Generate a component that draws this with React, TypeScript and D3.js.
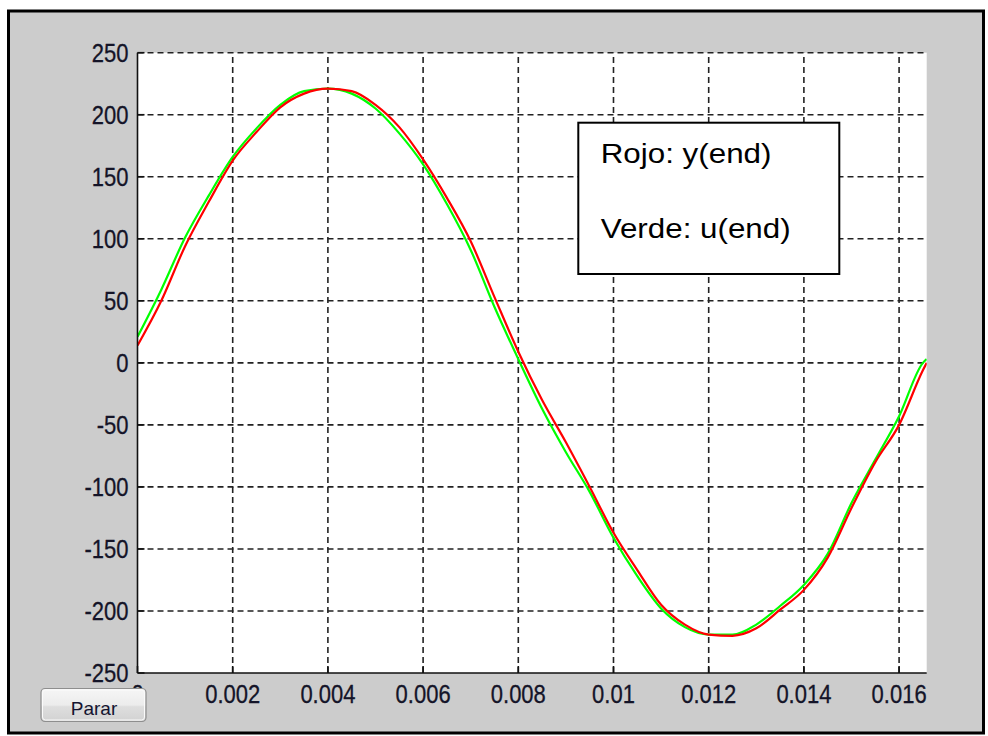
import { useEffect, useRef } from 'react';
import * as d3 from 'd3';

// sample times (s) and the two traces
const times = [
  0, 0.0005, 0.001, 0.0015, 0.002, 0.0025, 0.003, 0.0035, 0.004, 0.0045,
  0.005, 0.0055, 0.006, 0.0065, 0.007, 0.0075, 0.008, 0.0085, 0.009, 0.0095,
  0.01, 0.0105, 0.011, 0.0115, 0.012, 0.0125, 0.013, 0.0135, 0.014, 0.0145,
  0.015, 0.0155, 0.016, 0.0165, 0.01658,
];
const uEnd = [
  21, 59, 101, 135, 166, 189, 208, 219, 221, 217,
  205, 185, 160, 128, 91, 45, 3, -37, -72, -104,
  -141, -172, -198, -213, -219, -219, -211, -196, -179, -154,
  -113, -78, -43, 0, 3,
];
const yEnd = [
  14, 50, 94, 130, 163, 186, 206, 217, 221, 219,
  208, 190, 164, 133, 98, 53, 9, -30, -64, -100,
  -137, -167, -195, -211, -219, -220, -214, -199, -183, -157,
  -117, -80, -50, -6, 0,
];

const xTicks = [0, 0.002, 0.004, 0.006, 0.008, 0.01, 0.012, 0.014, 0.016];
const xTickLabels = ['0', '0.002', '0.004', '0.006', '0.008', '0.01', '0.012', '0.014', '0.016'];
const yTicks = [-250, -200, -150, -100, -50, 0, 50, 100, 150, 200, 250];
const legendLines = ['Rojo: y(end)', 'Verde: u(end)'];

export default function App() {
  const svgRef = useRef<SVGSVGElement>(null);

  useEffect(() => {
    if (!svgRef.current) return;
    const svg = d3.select(svgRef.current);
    svg.selectAll('*').remove();

    const width = 988;
    const height = 736;
    const font = 'Liberation Sans, Arial, sans-serif';

    const x = d3.scaleLinear().domain([0, 0.01658]).range([137.5, 926.7]);
    const y = d3.scaleLinear().domain([-250, 250]).range([673, 52.7]);
    const [x0, x1] = x.range();
    const [yb, yt] = y.range();

    svg.append('rect').attr('width', width).attr('height', height).attr('fill', '#fff');
    // figure window
    svg.append('rect')
      .attr('x', 8.5).attr('y', 11)
      .attr('width', 975).attr('height', 722)
      .attr('fill', '#cccccc')
      .attr('stroke', '#000')
      .attr('stroke-width', 3);

    // axes background
    svg.append('rect')
      .attr('x', x0).attr('y', yt)
      .attr('width', x1 - x0).attr('height', yb - yt)
      .attr('fill', '#fff');

    // grid
    const grid = svg.append('g')
      .attr('stroke', '#222')
      .attr('stroke-width', 1.6)
      .attr('stroke-dasharray', '6,4');
    grid.selectAll('line.vx')
      .data(xTicks.filter(d => d > 0))
      .join('line')
      .attr('class', 'vx')
      .attr('x1', d => x(d)).attr('x2', d => x(d))
      .attr('y1', yb).attr('y2', yt);
    grid.selectAll('line.hy')
      .data(yTicks.filter(d => d > -250))
      .join('line')
      .attr('class', 'hy')
      .attr('x1', x0).attr('x2', x1)
      .attr('y1', d => y(d)).attr('y2', d => y(d));

    // traces
    svg.append('clipPath').attr('id', 'plot-clip')
      .append('rect')
      .attr('x', x0).attr('y', yt)
      .attr('width', x1 - x0).attr('height', yb - yt);

    const line = d3.line<number>()
      .x((_, i) => x(times[i]))
      .y(d => y(d))
      .curve(d3.curveMonotoneX);

    const traces = svg.append('g').attr('clip-path', 'url(#plot-clip)');
    traces.append('path')
      .attr('d', line(uEnd))
      .attr('fill', 'none')
      .attr('stroke', '#00ff00')
      .attr('stroke-width', 2.2)
      .attr('stroke-linejoin', 'round');
    traces.append('path')
      .attr('d', line(yEnd))
      .attr('fill', 'none')
      .attr('stroke', '#ff0000')
      .attr('stroke-width', 2.2)
      .attr('stroke-linejoin', 'round');

    // axis lines and inward ticks
    const axis = svg.append('g').attr('stroke', '#111').attr('stroke-width', 1.6);
    axis.append('line').attr('x1', x0).attr('x2', x0).attr('y1', yt).attr('y2', yb);
    axis.append('line').attr('x1', x0).attr('x2', x1).attr('y1', yb).attr('y2', yb);
    axis.selectAll('line.xt')
      .data(xTicks)
      .join('line')
      .attr('class', 'xt')
      .attr('x1', d => x(d)).attr('x2', d => x(d))
      .attr('y1', yb).attr('y2', yb - 7);
    axis.selectAll('line.yt')
      .data(yTicks)
      .join('line')
      .attr('class', 'yt')
      .attr('x1', x0).attr('x2', x0 + 7)
      .attr('y1', d => y(d)).attr('y2', d => y(d));

    // tick labels
    svg.selectAll('g.ylab')
      .data(yTicks)
      .join('g')
      .attr('class', 'ylab')
      .attr('transform', d => `translate(128.5,${y(d) + 9})`)
      .append('text')
      .attr('transform', 'scale(0.88,1)')
      .attr('text-anchor', 'end')
      .attr('font-family', font)
      .attr('font-size', 25)
      .attr('fill', '#141428')
      .attr('stroke', '#141428')
      .attr('stroke-width', 0.3)
      .text(d => String(d));

    svg.selectAll('g.xlab')
      .data(xTicks)
      .join('g')
      .attr('class', 'xlab')
      .attr('transform', d => `translate(${x(d)},703)`)
      .append('text')
      .attr('transform', 'scale(0.88,1)')
      .attr('text-anchor', 'middle')
      .attr('font-family', font)
      .attr('font-size', 25)
      .attr('fill', '#141428')
      .attr('stroke', '#141428')
      .attr('stroke-width', 0.3)
      .text((_, i) => xTickLabels[i]);

    // legend box
    svg.append('rect')
      .attr('x', 578.3).attr('y', 122.7)
      .attr('width', 261).attr('height', 151.3)
      .attr('fill', '#fff')
      .attr('stroke', '#000')
      .attr('stroke-width', 2);
    svg.selectAll('g.leg')
      .data(legendLines)
      .join('g')
      .attr('class', 'leg')
      .attr('transform', (_, i) => `translate(600.7,${163.3 + i * 75})`)
      .append('text')
      .attr('transform', 'scale(1.12,1)')
      .attr('font-family', font)
      .attr('font-size', 28)
      .attr('fill', '#000')
      .text(d => d);

    // "Parar" button
    const defs = svg.append('defs');
    const grad = defs.append('linearGradient')
      .attr('id', 'btn-grad')
      .attr('x1', 0).attr('y1', 0).attr('x2', 0).attr('y2', 1);
    grad.append('stop').attr('offset', '0%').attr('stop-color', '#f6f6f6');
    grad.append('stop').attr('offset', '50%').attr('stop-color', '#ececec');
    grad.append('stop').attr('offset', '55%').attr('stop-color', '#dedede');
    grad.append('stop').attr('offset', '100%').attr('stop-color', '#d2d2d2');

    svg.append('rect')
      .attr('x', 41).attr('y', 688.5)
      .attr('width', 105).attr('height', 33)
      .attr('rx', 4)
      .attr('fill', 'url(#btn-grad)')
      .attr('stroke', '#8e8e8e')
      .attr('stroke-width', 1.2);
    svg.append('rect')
      .attr('x', 42.5).attr('y', 690)
      .attr('width', 102).attr('height', 30)
      .attr('rx', 3)
      .attr('fill', 'none')
      .attr('stroke', '#fbfbfb')
      .attr('stroke-width', 1);
    svg.append('text')
      .attr('x', 94).attr('y', 715)
      .attr('text-anchor', 'middle')
      .attr('font-family', font)
      .attr('font-size', 19)
      .attr('fill', '#141430')
      .text('Parar');
  }, []);

  return (
    <div>
      <svg
        ref={svgRef}
        width={988}
        height={736}
        style={{ position: 'absolute', left: 0, top: 0, display: 'block' }}
      />
    </div>
  );
}
